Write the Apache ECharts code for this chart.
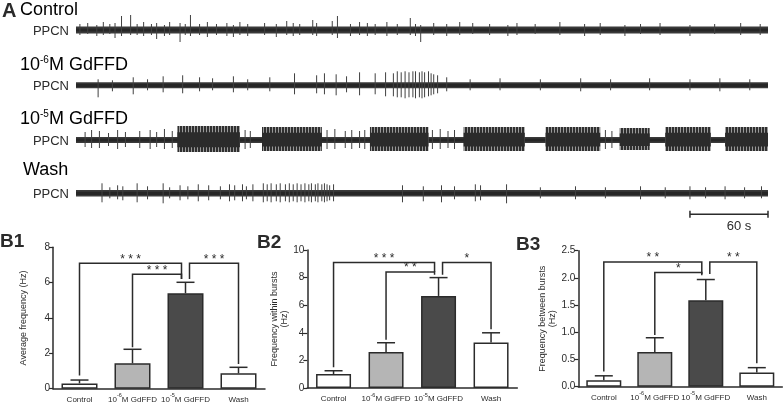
<!DOCTYPE html>
<html><head><meta charset="utf-8">
<script src="https://cdn.jsdelivr.net/npm/echarts@6/dist/echarts.min.js"></script>
<style>html,body{margin:0;padding:0;background:#fff}#c{width:784px;height:402px}</style>
</head><body><div id="c"></div>
<script>
// ---------- DATA ----------
// Panel A: extracellular traces (time in s, amplitudes in arbitrary units)
const traceTitles = ['Control', '10^-6M GdFFD', '10^-5M GdFFD', 'Wash'];
const traceDuration = 532;
const noiseHalfWidth = [3.4, 3.0, 3.0, 3.3];
// spikes: [time, up amplitude, down amplitude]
const spikesControl = [[3,6,5],[9,7,4],[16,5,6],[21,8,5],[26,6,4],[30,7,8],[35,14,6],[42,15,5],[47,6,5],[52,8,6],[58,6,5],[62,7,9],[68,5,6],[72,8,5],[80,7,12],[84,6,5],[88,15,6],[95,6,5],[101,8,7],[108,6,5],[116,7,6],[121,5,7],[126,8,5],[132,6,6],[145,7,5],[154,6,7],[162,9,5],[167,7,6],[172,6,5],[182,10,5],[185,7,6],[197,9,5],[201,14,8],[211,6,6],[218,8,5],[224,7,6],[230,6,5],[239,8,6],[247,6,5],[257,12,5],[261,6,6],[265,5,12],[275,7,5],[285,6,6],[295,8,5],[305,7,4],[318,6,5],[332,5,6],[339,7,5],[353,6,4],[372,8,5],[391,6,6],[403,7,5],[422,5,6],[434,6,4],[449,7,5],[472,5,6],[491,6,4],[511,7,5],[526,6,5]];
const spikesLowDose = [[17,6,12],[28,5,6],[44,8,9],[55,6,5],[67,9,7],[82,10,8],[95,8,6],[105,7,5],[121,9,7],[132,6,5],[149,8,6],[168,12,9],[185,10,8],[191,12,9],[200,11,10],[208,9,7],[218,13,10],[230,12,9],[238,13,11],[244,12,11],[247,14,12],[250,13,12],[253,14,13],[256,13,12],[259,14,12],[261,14,13],[264,13,12],[266,14,13],[268,13,12],[271,14,11],[273,12,10],[275,11,9],[278,10,8],[285,8,6],[303,6,5],[326,7,5],[357,6,5],[388,7,6],[411,6,5],[441,7,5],[472,6,5],[495,7,6],[518,6,5]];
const spikesHighDose = [[7,8,7],[12,10,8],[18,9,8],[25,7,6],[32,10,9],[38,8,7],[49,9,8],[57,10,9],[62,8,7],[68,11,9],[74,9,8],[130,10,9],[134,9,8],[193,10,9],[199,11,9],[207,9,8],[212,10,9],[218,9,8],[222,10,9],[274,10,9],[280,11,9],[286,9,8],[291,10,9],[407,10,9],[412,9,8]];
// bursts: [start, end, up amplitude, down amplitude]
const burstsHighDose = [[78,126,14,12],[143,189,13,11],[226,271,13,11],[298,345,13,11],[361,403,13,11],[418,441,12,10],[453,488,13,11],[499,532,13,11]];
const spikesWash = [[20,10,9],[26,6,5],[32,8,6],[36,7,7],[47,10,9],[55,7,6],[67,10,10],[72,6,5],[80,8,7],[86,7,6],[94,9,8],[102,8,7],[111,7,6],[118,9,8],[122,8,7],[128,9,8],[131,7,6],[136,9,8],[144,10,9],[147,9,8],[150,10,9],[154,9,8],[157,10,9],[161,9,8],[164,10,9],[167,9,8],[170,10,9],[173,9,8],[176,10,9],[179,9,8],[181,10,9],[184,9,8],[186,10,9],[189,9,8],[191,10,9],[193,9,8],[195,8,7],[198,9,8],[251,8,9],[267,7,8],[281,8,9],[291,7,6],[307,9,8],[311,8,7],[331,9,10],[357,6,5],[384,7,6],[407,6,5],[434,7,6],[453,6,5],[472,7,6],[484,6,5],[499,7,6],[514,6,5],[527,7,5]];
const scaleBarSeconds = [472, 532];
const scaleBarLabel = '60 s';

// Panel B: bar charts (mean, SEM)
const categories = ['Control', '10^-6M GdFFD', '10^-5M GdFFD', 'Wash'];
const avgFreqMean = [0.30, 1.44, 5.40, 0.87];
const avgFreqSem  = [0.19, 0.79, 0.62, 0.34];
const withinMean  = [1.01, 2.60, 6.67, 3.30];
const withinSem   = [0.24, 0.68, 1.33, 0.70];
const betweenMean = [0.12, 0.64, 1.59, 0.26];
const betweenSem  = [0.08, 0.26, 0.38, 0.09];
// brackets: [from, to, level, leftFoot, rightFoot, stars]
const bracketsAvg     = [[0,2,7.1,0.75,6.2,'* * *'],[1,2,6.47,2.35,6.2,'* * *'],[2,3,7.1,6.2,1.4,'* * *']];
const bracketsWithin  = [[0,2,9.1,1.5,8.4,'* * *'],[1,2,8.4,3.5,8.2,'* *'],[2,3,9.1,8.2,4.25,'*']];
const bracketsBetween = [[0,2,2.29,0.28,2.07,'* *'],[1,2,2.1,0.95,2.05,'*'],[2,3,2.29,2.07,0.43,'* *']];
const yTicksAvg = {max: 8, interval: 2};
const yTicksWithin = {max: 10, interval: 2};
const yTicksBetween = {max: 2.5, interval: 0.5};

// ---------- STYLE ----------
const FONT = 'Liberation Sans, Arial, sans-serif';
const INK = '#2b2b2b';
const barFill = ['#ffffff', '#b5b5b5', '#4a4a4a', '#ffffff'];
const traceCenters = [30, 85.3, 140, 193.3];

// stripe pattern for dense bursts
const stripe = document.createElement('canvas');
stripe.width = 3; stripe.height = 4;
(function () {
  const g = stripe.getContext('2d');
  g.fillStyle = '#9a9a9a'; g.fillRect(0, 0, 3, 4);
  g.fillStyle = '#2f2f2f'; g.fillRect(0, 0, 2, 4);
})();

const chart = echarts.init(document.getElementById('c'), null, {renderer: 'canvas', width: 784, height: 402});

const grids = [], xAxes = [], yAxes = [], series = [];

// ---- trace grids ----
traceCenters.forEach((c, i) => {
  grids.push({left: 76, width: 692, top: c - 20, height: 40, outerBoundsMode: 'none'});
  xAxes.push({type: 'value', gridIndex: grids.length - 1, min: 0, max: traceDuration, show: false});
  yAxes.push({type: 'value', gridIndex: grids.length - 1, min: -20, max: 20, show: false});
});
const traceSpikes = [spikesControl, spikesLowDose, spikesHighDose, spikesWash];
traceSpikes.forEach((sp, i) => {
  series.push({
    type: 'custom', xAxisIndex: i, yAxisIndex: i, silent: true, clip: false,
    data: [[0, traceDuration, noiseHalfWidth[i], noiseHalfWidth[i]]],
    renderItem: (p, api) => {
      const a = api.coord([api.value(0), api.value(2)]);
      const b = api.coord([api.value(1), -api.value(3)]);
      const c = api.coord([api.value(0), 0]);
      return {type: 'group', children: [
        {type: 'rect', shape: {x: a[0], y: a[1], width: b[0] - a[0], height: b[1] - a[1]}, style: {fill: '#3a3a3a'}},
        {type: 'rect', shape: {x: a[0], y: c[1] - 1.6, width: b[0] - a[0], height: 3.2}, style: {fill: '#262626'}}
      ]};
    }
  });
  if (i === 2) {
    series.push({
      type: 'custom', xAxisIndex: i, yAxisIndex: i, silent: true, clip: false,
      data: burstsHighDose,
      renderItem: (p, api) => {
        const t0 = api.value(0), t1 = api.value(1), up = api.value(2), dn = api.value(3);
        const a = api.coord([t0, up]), b = api.coord([t1, -dn]);
        const a2 = api.coord([t0, up * 0.55]), b2 = api.coord([t1, -dn * 0.6]);
        return {type: 'group', children: [
          {type: 'rect', shape: {x: a[0], y: a[1], width: b[0] - a[0], height: b[1] - a[1]}, style: {fill: {image: stripe, repeat: 'repeat'}}},
          {type: 'rect', shape: {x: a2[0], y: a2[1], width: b2[0] - a2[0], height: b2[1] - a2[1]}, style: {fill: '#2b2b2b'}}
        ]};
      }
    });
  }
  series.push({
    type: 'custom', xAxisIndex: i, yAxisIndex: i, silent: true, clip: false,
    data: sp,
    renderItem: (p, api) => {
      const a = api.coord([api.value(0), api.value(1)]);
      const b = api.coord([api.value(0), -api.value(2)]);
      return {type: 'line', shape: {x1: a[0], y1: a[1], x2: b[0], y2: b[1]}, style: {stroke: '#404040', lineWidth: 1}};
    }
  });
});
// scale bar (on wash trace grid)
series.push({
  type: 'custom', xAxisIndex: 3, yAxisIndex: 3, silent: true, clip: false,
  data: [[scaleBarSeconds[0], scaleBarSeconds[1]]],
  renderItem: (p, api) => {
    const a = api.coord([api.value(0), -21]);
    const b = api.coord([api.value(1), -21]);
    return {type: 'group', children: [
      {type: 'line', shape: {x1: a[0], y1: a[1], x2: b[0], y2: b[1]}, style: {stroke: INK, lineWidth: 1.5}},
      {type: 'line', shape: {x1: a[0], y1: a[1] - 3.5, x2: a[0], y2: a[1] + 3.5}, style: {stroke: INK, lineWidth: 1.5}},
      {type: 'line', shape: {x1: b[0], y1: b[1] - 3.5, x2: b[0], y2: b[1] + 3.5}, style: {stroke: INK, lineWidth: 1.5}},
      {type: 'text', style: {text: scaleBarLabel, x: (a[0] + b[0]) / 2 + 10, y: a[1] + 12, font: '13px ' + FONT, fill: INK, align: 'center', verticalAlign: 'middle', textAlign: 'center', textVerticalAlign: 'middle'}}
    ]};
  }
});

// ---- bar charts ----
const catFormatter = v => {
  const m = v.match(/^(.*)\^(-?\d+)(.*)$/);
  if (!m) return '{n|' + v + '}';
  return '{n|' + m[1] + '}{s|' + m[2] + '}{n|' + m[3] + '}';
};
const panels = [
  {grid: {left: 53, top: 247.3, width: 212, height: 141.4}, ticks: yTicksAvg, mean: avgFreqMean, sem: avgFreqSem, br: bracketsAvg,
   name: 'Average frequency (Hz)', nameGap: 24, fmt: v => String(v), barW: 36},
  {grid: {left: 307.3, top: 250, width: 210, height: 138}, ticks: yTicksWithin, mean: withinMean, sem: withinSem, br: bracketsWithin,
   name: 'Frequency within bursts\n(Hz)', nameGap: 2, fmt: v => String(v), barW: 35},
  {grid: {left: 578.3, top: 250.7, width: 204, height: 136}, ticks: yTicksBetween, mean: betweenMean, sem: betweenSem, br: bracketsBetween,
   name: 'Frequency between bursts\n(Hz)', nameGap: 21, fmt: v => v.toFixed(1), barW: 35}
];
panels.forEach(pn => {
  grids.push(Object.assign({outerBoundsMode: 'none'}, pn.grid));
  const gi = grids.length - 1;
  xAxes.push({type: 'category', gridIndex: gi, data: categories,
    axisLine: {lineStyle: {color: INK, width: 1.5}},
    axisTick: {alignWithLabel: true, length: 3, lineStyle: {color: INK, width: 1.2}},
    axisLabel: {margin: 4, formatter: catFormatter, interval: 0,
      rich: {n: {fontSize: 8, fontFamily: FONT, color: INK, lineHeight: 11, verticalAlign: 'bottom'},
             s: {fontSize: 5.5, fontFamily: FONT, color: INK, verticalAlign: 'top', lineHeight: 11}}}
  });
  yAxes.push({type: 'value', gridIndex: gi, min: 0, max: pn.ticks.max, interval: pn.ticks.interval,
    axisLine: {show: true, lineStyle: {color: INK, width: 1.5}},
    axisTick: {show: true, length: 4, lineStyle: {color: INK, width: 1.2}},
    splitLine: {show: false},
    axisLabel: {fontSize: 10, fontFamily: FONT, color: INK, margin: 3, formatter: pn.fmt},
    name: pn.name, nameLocation: 'middle', nameRotate: 90, nameGap: pn.nameGap,
    nameTextStyle: {fontSize: 9, fontFamily: FONT, color: INK, lineHeight: 10}
  });
  const ai = xAxes.length - 1;
  series.push({type: 'bar', xAxisIndex: ai, yAxisIndex: ai, barWidth: pn.barW, silent: true,
    data: pn.mean.map((v, i) => ({value: v, itemStyle: {color: barFill[i], borderColor: INK, borderWidth: 1.5}}))});
  series.push({type: 'custom', xAxisIndex: ai, yAxisIndex: ai, silent: true, clip: false, z: 3,
    data: pn.mean.map((v, i) => [i, v, pn.sem[i]]),
    renderItem: (p, api) => {
      const a = api.coord([api.value(0), api.value(1)]);
      const b = api.coord([api.value(0), api.value(1) + api.value(2)]);
      return {type: 'group', children: [
        {type: 'line', shape: {x1: a[0], y1: a[1], x2: b[0], y2: b[1]}, style: {stroke: INK, lineWidth: 1.5}},
        {type: 'line', shape: {x1: b[0] - 9, y1: b[1], x2: b[0] + 9, y2: b[1]}, style: {stroke: INK, lineWidth: 1.5}}
      ]};
    }
  });
  const br = pn.br;
  series.push({type: 'custom', xAxisIndex: ai, yAxisIndex: ai, silent: true, clip: false, z: 3,
    data: br.map(b => [b[0], b[1], b[2], b[3], b[4]]),
    renderItem: (p, api) => {
      const f = api.value(0), t = api.value(1);
      const xl = api.coord([f, 0])[0] + (f === 2 ? 4 : 0);
      const xr = api.coord([t, 0])[0] + (t === 2 ? -4 : 0);
      const yl = api.coord([f, api.value(2)])[1];
      const yfl = api.coord([f, api.value(3)])[1];
      const yfr = api.coord([t, api.value(4)])[1];
      return {type: 'group', children: [
        {type: 'polyline', shape: {points: [[xl, yfl], [xl, yl], [xr, yl], [xr, yfr]]}, style: {stroke: INK, lineWidth: 1.5, fill: null}},
        {type: 'text', style: {text: br[p.dataIndex][5], x: (xl + xr) / 2, y: yl + 2, font: '12px ' + FONT, fill: INK,
          align: 'center', verticalAlign: 'bottom', textAlign: 'center', textVerticalAlign: 'bottom'}}
      ]};
    }
  });
});

// ---- labels (titles) ----
const rich = {
  n: {fontSize: 18, fontFamily: FONT, color: INK, lineHeight: 20},
  s: {fontSize: 10, fontFamily: FONT, color: INK, verticalAlign: 'top', lineHeight: 10}
};
const titleText = v => {
  const m = v.match(/^(.*)\^(-?\d+)(.*)$/);
  if (!m) return '{n|' + v + '}';
  return '{n|' + m[1] + '}{s|' + m[2] + '}{n|' + m[3] + '}';
};
const titleY = [10.5, 65, 119.5, 170];
const titleX = [20, 20, 20, 23];
const graphic = [];
graphic.push({type: 'text', style: {text: 'A', x: 2, y: 11.5, font: 'bold 20px ' + FONT, fill: INK, verticalAlign: 'middle', textVerticalAlign: 'middle'}});
traceTitles.forEach((t, i) => {
  graphic.push({type: 'text', style: {text: titleText(t), rich: rich, x: titleX[i], y: titleY[i], verticalAlign: 'middle', textVerticalAlign: 'middle'}});
  graphic.push({type: 'text', style: {text: 'PPCN', x: 69, y: traceCenters[i] + 1.5, font: '13px ' + FONT, fill: INK,
    align: 'right', textAlign: 'right', verticalAlign: 'middle', textVerticalAlign: 'middle'}});
});
[['B1', 0, 241.7], ['B2', 257, 243], ['B3', 516, 245]].forEach(b => {
  graphic.push({type: 'text', style: {text: b[0], x: b[1], y: b[2], font: 'bold 19px ' + FONT, fill: INK, verticalAlign: 'middle', textVerticalAlign: 'middle'}});
});

chart.setOption({
  animation: false,
  backgroundColor: '#ffffff',
  grid: grids, xAxis: xAxes, yAxis: yAxes, series: series, graphic: graphic
});
</script></body></html>
